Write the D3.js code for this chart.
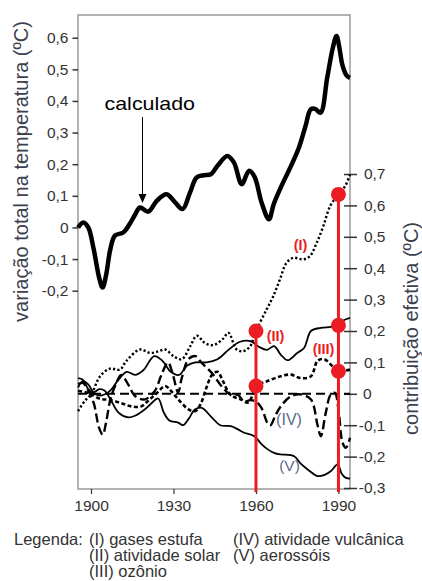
<!DOCTYPE html>
<html>
<head>
<meta charset="utf-8">
<script src="https://cdn.jsdelivr.net/npm/d3@7"></script>
<style>
  body { margin: 0; background: #fff; }
  svg { display: block; font-family: Arial, "Liberation Sans", sans-serif; }
</style>
</head>
<body>
<div id="chart"></div>
<script>
// calculated total temperature change (left axis)
const calculado = [
  [1895.3, 0.0], [1897.2, 0.016], [1899, 0.0], [1901, -0.07], [1903, -0.16],
  [1904.2, -0.19], [1905.5, -0.15], [1907, -0.07], [1908.7, -0.026], [1911.7, -0.016],
  [1914, 0.01], [1916, 0.04], [1917.8, 0.063], [1920.8, 0.05], [1924, 0.085],
  [1927.5, 0.105], [1930.5, 0.08], [1933.3, 0.058], [1936, 0.11], [1938.4, 0.158],
  [1941, 0.165], [1943.6, 0.168], [1946, 0.195], [1949.6, 0.226], [1952, 0.205],
  [1954.8, 0.137], [1957.5, 0.179], [1959.5, 0.16], [1962, 0.08], [1964.7, 0.026],
  [1966.5, 0.075], [1969, 0.126], [1972.5, 0.19], [1975.6, 0.252], [1978, 0.32],
  [1979.9, 0.373], [1981.5, 0.375], [1983.5, 0.363], [1985.9, 0.473], [1988, 0.57],
  [1989.3, 0.605], [1990.5, 0.56], [1991.4, 0.515], [1993, 0.48], [1994.2, 0.473]
];

// (I) gases estufa
const gasesEstufa = [
  [1895.3, -0.055], [1897.7, -0.023], [1900.2, 0.0], [1903.3, 0.056], [1906.9, 0.08],
  [1910.5, 0.077], [1912.9, 0.105], [1917.8, 0.141], [1921.5, 0.13], [1924.5, 0.135],
  [1927, 0.141], [1930, 0.12], [1933, 0.11], [1936, 0.15], [1938.5, 0.185],
  [1941.4, 0.162], [1944.5, 0.155], [1948, 0.175], [1950, 0.194], [1953, 0.141],
  [1955.4, 0.136], [1957.8, 0.15], [1960, 0.2], [1963.9, 0.269], [1966.3, 0.311],
  [1968.7, 0.364], [1971.1, 0.417], [1973.6, 0.433], [1977.2, 0.428], [1979.6, 0.438],
  [1982.1, 0.481], [1984.5, 0.534], [1987, 0.598], [1990, 0.635], [1992.4, 0.661],
  [1994.2, 0.698]
];

// (II) atividade solar
const atividadeSolar = [
  [1895.3, 0.05], [1897, 0.045], [1899, 0.015], [1901, 0.0], [1904, -0.005],
  [1907, 0.01], [1910, 0.045], [1913, 0.07], [1916, 0.06], [1919, 0.075],
  [1923, 0.12], [1926, 0.105], [1929, 0.07], [1932, 0.06], [1935, 0.09],
  [1938, 0.1], [1942, 0.1], [1946, 0.11], [1950, 0.14], [1954, 0.165],
  [1958, 0.168], [1961, 0.15], [1964, 0.14], [1966.6, 0.152], [1969, 0.125],
  [1971.5, 0.107], [1975, 0.13], [1977.5, 0.146], [1980, 0.2], [1983.6, 0.21],
  [1987.2, 0.213], [1990, 0.218], [1992.1, 0.235], [1994.2, 0.242]
];

// (III) ozônio
const ozonio = [
  [1895.3, 0.01], [1898, 0.005], [1900, 0.0], [1903, -0.015], [1907, -0.02],
  [1911, -0.03], [1914.7, -0.04], [1918.3, -0.04], [1920.7, -0.023], [1923.7, 0.0],
  [1927, 0.025], [1929, 0.01], [1931, -0.01], [1933, -0.03], [1935.5, -0.05],
  [1938, -0.055], [1940, -0.03], [1942, 0.02], [1944, 0.06], [1946, 0.07],
  [1948, 0.04], [1950, 0.005], [1952, -0.01], [1954.5, -0.018], [1957, -0.028],
  [1958.5, -0.01], [1960, 0.025], [1964, 0.04], [1969, 0.056], [1972.7, 0.061],
  [1976.3, 0.05], [1980, 0.056], [1982.4, 0.105], [1984.8, 0.11], [1988.4, 0.083],
  [1990, 0.072], [1994.2, 0.077]
];

// (IV) atividade vulcânica
const atividadeVulcanica = [
  [1895.3, 0.03], [1897, 0.035], [1899, 0.01], [1901, -0.03], [1903, -0.11],
  [1904.3, -0.13], [1905.5, -0.09], [1907, -0.02], [1909, 0.03], [1911, 0.06],
  [1913.5, 0.03], [1916, -0.007], [1919.5, -0.018], [1923.2, 0.009], [1925.6, 0.06],
  [1928, 0.1], [1929.5, 0.07], [1931.7, 0.005], [1933, 0.05], [1935.4, 0.11],
  [1938, 0.12], [1940.2, 0.099], [1943.9, 0.067], [1947.5, 0.024], [1951.1, -0.005],
  [1953.3, -0.003], [1955.7, -0.024], [1958, -0.02], [1960, -0.025], [1962, -0.045],
  [1964.3, -0.095], [1965.3, -0.1], [1967, -0.07], [1969, -0.04], [1972.7, -0.008],
  [1976.3, -0.002], [1980, -0.018], [1982.4, -0.1], [1983.6, -0.135], [1985.4, -0.06],
  [1987.2, -0.002], [1988.7, 0.003], [1990, -0.05], [1991.5, -0.156], [1992.7, -0.172],
  [1994.2, -0.14]
];

// (V) aerossóis
const aerossois = [
  [1895.3, 0.02], [1897, 0.04], [1899, 0.03], [1901, 0.005], [1903, 0.015],
  [1905, 0.01], [1907.4, -0.023], [1910, -0.06], [1913.5, -0.075], [1916, -0.07],
  [1919.5, -0.05], [1922, -0.03], [1924.4, -0.015], [1926.5, -0.06], [1928.5, -0.085],
  [1931.7, -0.092], [1933.5, -0.1], [1935.5, -0.08], [1937.8, -0.05], [1940.3, -0.045],
  [1943.9, -0.075], [1947, -0.1], [1950.9, -0.103], [1953.6, -0.114], [1955.7, -0.124],
  [1959.4, -0.135], [1962, -0.16], [1964.3, -0.177], [1967, -0.19], [1969.1, -0.193],
  [1973.9, -0.199], [1976, -0.22], [1978.8, -0.241], [1982.4, -0.262], [1985, -0.258],
  [1987.3, -0.246], [1989.7, -0.225], [1991.2, -0.255], [1992.5, -0.267], [1994.2, -0.27]
];

// red markers: vertical lines at 1960 and 1990, dots on right axis
const markerYears = [1960, 1990];
const markerTops = [0.2, 0.635];
const dots = [[1960, 0.2], [1960, 0.025], [1990, 0.635], [1990, 0.218], [1990, 0.072]];

const leftTicks = [0.6, 0.5, 0.4, 0.3, 0.2, 0.1, 0, -0.1, -0.2];
const rightTicks = [0.7, 0.6, 0.5, 0.4, 0.3, 0.2, 0.1, 0, -0.1, -0.2, -0.3];
const yearTicks = [1900, 1930, 1960, 1990];

const legendRows = [
  ["(I) gases estufa", "(IV) atividade vulcânica"],
  ["(II) atividade solar", "(V) aerossóis"],
  ["(III) ozônio", ""]
];

const w = 422;
const h = 581;

const svg = d3.select("#chart").append("svg")
  .attr("width", w)
  .attr("height", h);

const box = { left: 78, right: 350, top: 15, bottom: 489 };

const x = d3.scaleLinear().domain([1895.27, 1994.2]).range([box.left, box.right]);
const yL = d3.scaleLinear().domain([-0.2, 0.6]).range([290.7, 37.7]);
const yR = d3.scaleLinear().domain([-0.3, 0.7]).range([488, 174]);

// portuguese decimal comma, plain hyphen as minus
const fmt = (d) => (d === 0 ? "0" : d3.format(".1f")(d).replace(".", ",").replace("\u2212", "-"));
const tickColor = "#333";

// frame
svg.append("rect")
  .attr("x", box.left)
  .attr("y", box.top)
  .attr("width", box.right - box.left)
  .attr("height", box.bottom - box.top)
  .attr("fill", "none")
  .attr("stroke", "#9a9a9a")
  .attr("stroke-width", 1.5);

// left axis
const leftAxis = svg.append("g")
  .attr("transform", `translate(${box.left},0)`)
  .call(d3.axisLeft(yL).tickValues(leftTicks).tickFormat(fmt).tickSize(5.5).tickPadding(4));
leftAxis.select(".domain").remove();
leftAxis.selectAll("line").attr("stroke", tickColor).attr("stroke-width", 1.5);
leftAxis.selectAll("text")
  .attr("fill", tickColor)
  .style("font-size", "15.5px");

// right axis
const rightAxis = svg.append("g")
  .attr("transform", `translate(${box.right},0)`)
  .call(d3.axisRight(yR).tickValues(rightTicks).tickFormat(fmt).tickSize(7).tickPadding(6));
rightAxis.select(".domain").remove();
rightAxis.selectAll("line").attr("x1", -6).attr("stroke", tickColor).attr("stroke-width", 1.5);
rightAxis.selectAll("text")
  .attr("fill", tickColor)
  .style("font-size", "15.5px")
  .attr("text-anchor", (d) => (d === 0 ? "start" : "end"))
  .attr("x", (d) => (d === 0 ? 13 : 35.5));

// bottom axis
const bottomAxis = svg.append("g")
  .attr("transform", `translate(0,${box.bottom})`)
  .call(d3.axisBottom(x).tickValues(yearTicks).tickFormat(d3.format("d")).tickSize(5).tickPadding(5.5));
bottomAxis.select(".domain").remove();
bottomAxis.selectAll("line").attr("stroke", tickColor).attr("stroke-width", 1.2);
bottomAxis.selectAll("text")
  .attr("fill", tickColor)
  .style("font-size", "15.5px");

// axis titles
svg.append("text")
  .attr("transform", "translate(27.5,171.5) rotate(-90)")
  .attr("text-anchor", "middle")
  .attr("fill", "#3c4150")
  .style("font-size", "20px")
  .text("variação total na temperatura (ºC)");

svg.append("text")
  .attr("transform", "translate(417.5,328.5) rotate(-90)")
  .attr("text-anchor", "middle")
  .attr("fill", "#3c4150")
  .style("font-size", "20px")
  .text("contribuição efetiva (ºC)");

// zero line of contributions
svg.append("line")
  .attr("x1", box.left)
  .attr("x2", box.right)
  .attr("y1", yR(0))
  .attr("y2", yR(0))
  .attr("stroke", "#000")
  .attr("stroke-width", 2)
  .attr("stroke-dasharray", "9 5");

const lineL = d3.line().x((d) => x(d[0])).y((d) => yL(d[1])).curve(d3.curveCatmullRom.alpha(0.5));
const lineR = d3.line().x((d) => x(d[0])).y((d) => yR(d[1])).curve(d3.curveCatmullRom.alpha(0.5));

const series = [
  { data: aerossois, width: 1.8, dash: null },
  { data: atividadeSolar, width: 1.8, dash: null },
  { data: atividadeVulcanica, width: 2.4, dash: "9 4" },
  { data: ozonio, width: 2.6, dash: "4 2.5" },
  { data: gasesEstufa, width: 2.4, dash: "2.2 2.2" }
];

svg.append("g")
  .selectAll("path")
  .data(series)
  .enter()
  .append("path")
  .attr("d", (d) => lineR(d.data))
  .attr("fill", "none")
  .attr("stroke", "#000")
  .attr("stroke-width", (d) => d.width)
  .attr("stroke-dasharray", (d) => d.dash);

// calculated curve
svg.append("path")
  .attr("d", lineL(calculado))
  .attr("fill", "none")
  .attr("stroke", "#000")
  .attr("stroke-width", 4.5)
  .attr("stroke-linejoin", "round");

// "calculado" label with arrow
svg.append("text")
  .attr("x", 104.5)
  .attr("y", 110)
  .attr("textLength", 90.5)
  .attr("lengthAdjust", "spacingAndGlyphs")
  .attr("fill", "#000")
  .style("font-size", "19px")
  .text("calculado");

svg.append("line")
  .attr("x1", 142.5)
  .attr("x2", 142.5)
  .attr("y1", 117)
  .attr("y2", 196)
  .attr("stroke", "#000")
  .attr("stroke-width", 1);

svg.append("path")
  .attr("d", "M138.5,194 L146.5,194 L142.5,203 Z")
  .attr("fill", "#000");

// red vertical lines and dots
const red = "#ec1c24";
svg.append("g")
  .selectAll("line")
  .data(markerYears)
  .enter()
  .append("line")
  .attr("x1", (d) => x(d))
  .attr("x2", (d) => x(d))
  .attr("y1", (d, i) => yR(markerTops[i]))
  .attr("y2", box.bottom + 3)
  .attr("stroke", red)
  .attr("stroke-width", 3);

svg.append("g")
  .selectAll("circle")
  .data(dots)
  .enter()
  .append("circle")
  .attr("cx", (d) => x(d[0]))
  .attr("cy", (d) => yR(d[1]))
  .attr("r", 7.5)
  .attr("fill", red);

// series labels
const redLabels = [["(I)", 300.5, 250], ["(II)", 275.5, 340.5], ["(III)", 323.5, 354]];
svg.append("g")
  .selectAll("text")
  .data(redLabels)
  .enter()
  .append("text")
  .attr("x", (d) => d[1])
  .attr("y", (d) => d[2])
  .attr("text-anchor", "middle")
  .attr("fill", red)
  .style("font-size", "14.5px")
  .style("font-weight", "bold")
  .text((d) => d[0]);

const grayLabels = [["(IV)", 289, 424.5, 16], ["(V)", 289.5, 471, 15.5]];
svg.append("g")
  .selectAll("text")
  .data(grayLabels)
  .enter()
  .append("text")
  .attr("x", (d) => d[1])
  .attr("y", (d) => d[2])
  .attr("text-anchor", "middle")
  .attr("fill", "#5b6b88")
  .style("font-size", (d) => `${d[3]}px`)
  .text((d) => d[0]);

// legend
const legend = svg.append("g").attr("fill", tickColor).style("font-size", "16.5px");
legend.append("text").attr("x", 14).attr("y", 544.5).text("Legenda:");
legendRows.forEach((row, i) => {
  legend.append("text").attr("x", 89).attr("y", 544.5 + i * 16.3).text(row[0]);
  legend.append("text").attr("x", 233).attr("y", 544.5 + i * 16.3).text(row[1]);
});
</script>
</body>
</html>
